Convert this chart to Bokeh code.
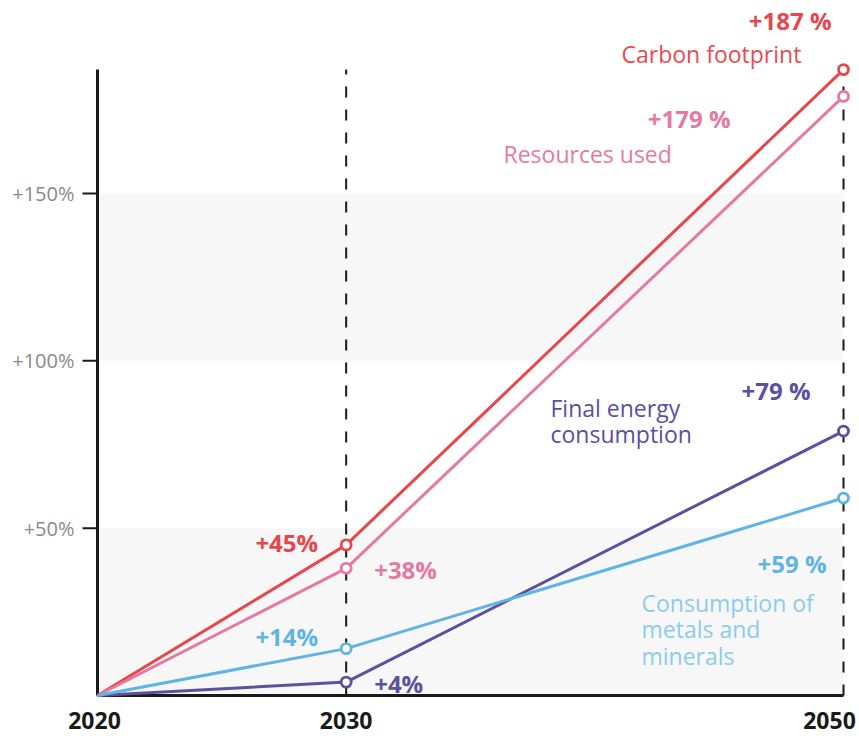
from bokeh.plotting import figure
from bokeh.models import Range1d
from bokeh.core.properties import value
from bokeh.embed import file_html
from bokeh.resources import INLINE

# ---------------- data ----------------
years = [2020, 2030, 2050]
xtick_labels = ["2020", "2030", "2050"]
carbon = [0, 45, 187]
resources = [0, 38, 179]
energy = [0, 4, 79]
metals = [0, 14, 59]
ytick_values = [50, 100, 150]
ytick_labels = ["+50%", "+100%", "+150%"]
band_bottoms = [0, 100]
band_tops = [50, 150]
carbon_labels = ["+45%", "+187 %"]
resources_labels = ["+38%", "+179 %"]
energy_labels = ["+4%", "+79 %"]
metals_labels = ["+14%", "+59 %"]
series_names = ["Carbon footprint", "Resources used", "Final energy\nconsumption",
                "Consumption of\nmetals and\nminerals"]

# ---------------- geometry ----------------
W, H = 859, 736
PX_YEAR = 24.867          # pixels per year
PX_PCT = 3.347            # pixels per percentage point
X0, Y0 = 97, 695          # figure pixel of (2020, 0)
x_start = 2020 - X0 / PX_YEAR
x_end = 2020 + (W - X0) / PX_YEAR
y_start = -(H - Y0) / PX_PCT
y_end = Y0 / PX_PCT


def xd(px):  # pixel -> data x
    return 2020 + (px - X0) / PX_YEAR


def yd(py):  # pixel -> data y
    return (Y0 - py) / PX_PCT


p = figure(width=W, height=H, x_range=Range1d(x_start, x_end),
           y_range=Range1d(y_start, y_end), output_backend="svg",
           toolbar_location=None, min_border=0)
p.outline_line_color = None
p.grid.visible = False
p.axis.visible = False
p.background_fill_color = "white"
p.border_fill_color = "white"

# background bands
p.quad(left=years[0], right=years[-1], bottom=band_bottoms, top=band_tops,
       fill_color="#f7f7f7", line_color=None)

top_val = max(carbon)
# dashed guides
p.segment(x0=years[1:], y0=[0, 0], x1=years[1:], y1=[top_val, top_val],
          line_color="#1a1a1a", line_width=2, line_dash="11 12")

# axis lines
p.segment(x0=[years[0], years[0]], y0=[0, 0], x1=[years[0], years[-1]],
          y1=[top_val, 0], line_color="#1a1a1a", line_width=3)

# y ticks and tick labels
p.segment(x0=[xd(82)] * len(ytick_values), y0=ytick_values,
          x1=[years[0]] * len(ytick_values), y1=ytick_values,
          line_color="#1a1a1a", line_width=2)
p.text(x=[years[0]] * len(ytick_values), y=ytick_values, text=ytick_labels,
       x_offset=-23, text_align="right", text_baseline="middle",
       text_font=value("Open Sans"), text_font_size="20px",
       text_color="#8a8a8a")

RED, PINK, PURPLE, BLUE = "#e8464b", "#e47aa2", "#5c519f", "#5fb4e2"
series = [(carbon, RED), (resources, PINK), (energy, PURPLE), (metals, BLUE)]
for vals, col in series:
    p.line(years, vals, line_color=col, line_width=3)
for vals, col in series:
    p.scatter(years[1:], vals[1:], size=10, fill_color="white", line_color=col,
              line_width=2.8)

# percentage labels (anchored at the data points, pixel offsets)
pct = [
    (carbon, carbon_labels, RED, [("right", -28, -2), ("right", -12, -49)]),
    (resources, resources_labels, PINK, [("left", 28, 1), ("right", -113, 22)]),
    (energy, energy_labels, PURPLE, [("left", 28, 1), ("right", -33, -41)]),
    (metals, metals_labels, BLUE, [("right", -28, -12), ("right", -17, 65)]),
]
for vals, labs, col, offs in pct:
    for i, (al, dx, dy) in enumerate(offs):
        p.text(x=[years[i + 1]], y=[vals[i + 1]], text=[labs[i]],
               text_align=al, text_baseline="middle", x_offset=dx, y_offset=dy,
               text_font=value("Open Sans"), text_font_style="bold",
               text_font_size="24px", text_color=col)

# series name labels
name_pos = [(621, 53), (503, 153), (550, 420.5), (641, 629)]
name_cols = ["#e94a50", "#e8799f", "#5a4fa0", "#8ccbee"]
for name, (px, py), col in zip(series_names, name_pos, name_cols):
    p.text(x=[xd(px)], y=[yd(py)], text=[name], text_align="left",
           text_baseline="middle", text_font=value("Open Sans"),
           text_font_size="23px", text_color=col, text_line_height=0.83)

# x tick labels
p.text(x=years, y=[yd(720)] * 3, text=xtick_labels, x_offset=[-3, 0, -14],
       text_align="center", text_baseline="middle",
       text_font=value("Open Sans"), text_font_style="bold",
       text_font_size="23px", text_color="#1a1a1a")

open("out.html", "w").write(file_html(p, INLINE))
